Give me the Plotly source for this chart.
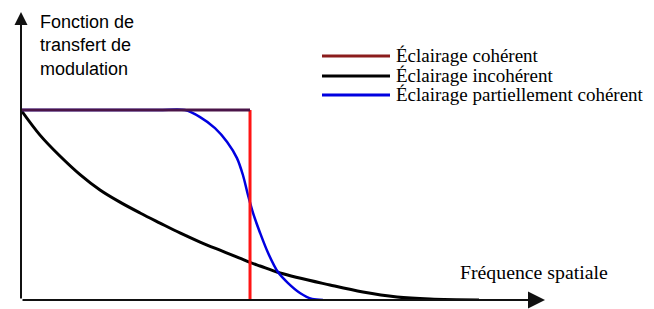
import plotly.graph_objects as go

# ---- data (spatial frequency normalised to coherent cut-off = 1) ----
coh_x = [0.0, 1.0, 1.0]
coh_y = [1.0, 1.0, 0.0]

incoh_x = [0.0, 0.083, 0.17, 0.258, 0.345, 0.432, 0.52, 0.607, 0.694, 0.782,
           0.869, 0.952, 1.0, 1.044, 1.131, 1.349, 1.493, 1.642, 1.786, 2.0]
incoh_y = [1.0, 0.868, 0.758, 0.66, 0.579, 0.515, 0.458, 0.405, 0.353, 0.305,
           0.262, 0.222, 0.198, 0.179, 0.142, 0.079, 0.042, 0.016, 0.005, 0.0]

part_x = [0.0, 0.6, 0.716, 0.782, 0.847, 0.900, 0.943, 0.969, 0.991, 1.013,
          1.044, 1.079, 1.122, 1.166, 1.218, 1.271, 1.319]
part_y = [1.0, 1.0, 1.0, 0.963, 0.905, 0.832, 0.747, 0.658, 0.553, 0.458,
          0.353, 0.247, 0.147, 0.089, 0.037, 0.005, 0.0]

legend_labels = ["Éclairage cohérent", "Éclairage incohérent",
                 "Éclairage partiellement cohérent"]
legend_colors = ["#8b1c1c", "#000000", "#0000e0"]

y_title = "Fonction de<br>transfert de<br>modulation"
x_title = "Fréquence spatiale"

# ---- layout geometry (page pixels; body has an 8px default margin) ----
OFF = 8
W, H = 654 - OFF, 309 - OFF
PLOT_L, PLOT_R, PLOT_T, PLOT_B = 21, 545, 12, 300   # page coordinates
ML, MT = PLOT_L - OFF, PLOT_T - OFF
MR, MB = W - (PLOT_R - OFF), H - (PLOT_B - OFF)
X_MAX, Y_MAX = 2.288, 1.516
PW, PH = PLOT_R - PLOT_L, PLOT_B - PLOT_T


def px(xp):
    return (xp - PLOT_L) / PW


def py(yp):
    return (PLOT_B - yp) / PH


fig = go.Figure()

fig.add_trace(go.Scatter(x=incoh_x, y=incoh_y, mode="lines",
                         line=dict(color="#000000", width=3, shape="spline", smoothing=1.0),
                         showlegend=False, hoverinfo="skip"))
fig.add_trace(go.Scatter(x=part_x, y=part_y, mode="lines",
                         line=dict(color="#0000e0", width=2.5, shape="spline", smoothing=0.8),
                         showlegend=False, hoverinfo="skip"))
fig.add_trace(go.Scatter(x=coh_x[1:], y=coh_y[1:], mode="lines",
                         line=dict(color="#ff1414", width=3),
                         showlegend=False, hoverinfo="skip"))
fig.add_trace(go.Scatter(x=coh_x[:2], y=coh_y[:2], mode="lines",
                         line=dict(color="#4a1448", width=3),
                         showlegend=False, hoverinfo="skip"))

annotations = []
shapes = []

# axis arrows
annotations.append(dict(x=X_MAX, y=0, ax=0, ay=0, xref="x", yref="y", axref="x", ayref="y",
                        text="", showarrow=True, arrowhead=2, arrowsize=1.7, arrowwidth=2,
                        arrowcolor="#111111"))
annotations.append(dict(x=0, y=Y_MAX, ax=0, ay=0, xref="x", yref="y", axref="x", ayref="y",
                        text="", showarrow=True, arrowhead=2, arrowsize=1.3, arrowwidth=2,
                        arrowcolor="#111111"))

# axis titles
annotations.append(dict(x=px(38), y=py(10), xref="paper", yref="paper", xanchor="left",
                        yanchor="top", align="left", showarrow=False, text=y_title,
                        font=dict(family="Liberation Sans, Arial", size=18, color="#000000")))
annotations.append(dict(x=px(458), y=py(272), xref="paper", yref="paper", xanchor="left",
                        yanchor="middle", showarrow=False, text=x_title,
                        font=dict(family="Liberation Serif, Times New Roman", size=19.8,
                                  color="#000000")))

# legend
leg_y = [56, 76, 95]
for lab, col, yy in zip(legend_labels, legend_colors, leg_y):
    shapes.append(dict(type="line", xref="paper", yref="paper", x0=px(322), x1=px(390),
                       y0=py(yy), y1=py(yy), line=dict(color=col, width=3)))
    annotations.append(dict(x=px(394), y=py(yy - 1), xref="paper", yref="paper",
                            xanchor="left", yanchor="middle", showarrow=False, text=lab,
                            font=dict(family="Liberation Serif, Times New Roman", size=19,
                                      color="#000000")))

fig.update_layout(
    width=W, height=H,
    margin=dict(l=ML, r=MR, t=MT, b=MB, pad=0),
    paper_bgcolor="white", plot_bgcolor="white",
    showlegend=False,
    annotations=annotations, shapes=shapes,
    xaxis=dict(range=[0, X_MAX], showgrid=False, zeroline=False, showticklabels=False,
               ticks="", showline=False, fixedrange=True),
    yaxis=dict(range=[0, Y_MAX], showgrid=False, zeroline=False, showticklabels=False,
               ticks="", showline=False, fixedrange=True),
)

fig.write_html("out.html")
